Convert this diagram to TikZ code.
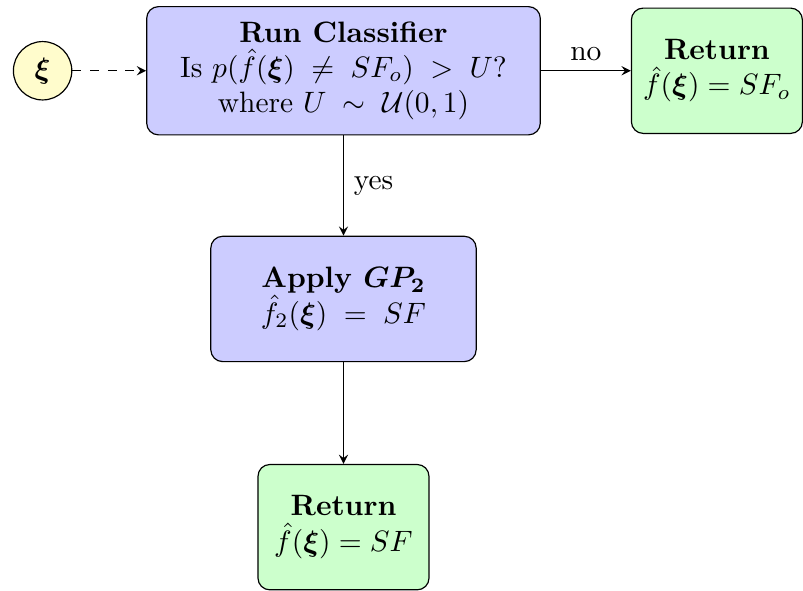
\documentclass[tikz,border=0pt]{standalone}
\usepackage{amsmath,amssymb}
\usepackage{tikz}
\usetikzlibrary{positioning, arrows.meta, shapes.geometric}

\begin{document}
\begin{tikzpicture}[
        node distance=30pt and 30pt,
        process/.style={rectangle, draw, rounded corners, fill=blue!20, minimum height=42pt, align=center},
        terminal/.style={rectangle, draw, rounded corners, fill=green!20, minimum width=58pt, minimum height=42.5pt, align=center},
        startnode/.style={circle, draw, fill=yellow!20, minimum size=19.8pt, inner sep=0pt},
        arrow/.style={->, >=stealth},
        dashedarrow/.style={->, >=stealth, dashed}
    ]
%
    % Nodes
    \node[process, minimum width=133.5pt, minimum height=43.5pt] (classify) at (0,0) {\textbf{Run Classifier}\\Is $p(\hat{f}(\boldsymbol{\xi}) \;\neq\; SF_o) \;>\; U$?\\where $U \;\sim\; \mathcal{U}(0,1)$};
    \node[startnode, left=25pt of classify] (xi) {$\boldsymbol{\xi}$};
    \node[terminal, right=30.5pt of classify] (retO) {\textbf{Return}\\$\hat{f}(\boldsymbol{\xi}) = SF_o$};
    \node[process, minimum width=90pt, minimum height=42.5pt, below=34pt of classify] (gp) {\textbf{Apply $\boldsymbol{GP_2}$}\\$\hat{f}_2(\boldsymbol{\xi}) \;=\; SF$};
    \node[terminal, below=34.5pt of gp] (retSF) {\textbf{Return}\\$\hat{f}(\boldsymbol{\xi}) = SF$};
%
    % Arrows
    \draw[dashedarrow] (xi) -- (classify);
    \draw[arrow] (classify) -- (retO) node[midway, above] {no};
    \draw[arrow] (classify) -- (gp) node[midway, right] {yes};
    \draw[arrow] (gp) -- (retSF);
%
    \useasboundingbox (-116.5pt,24pt) rectangle (148.5pt,-168.7pt);
\end{tikzpicture}
\end{document}
